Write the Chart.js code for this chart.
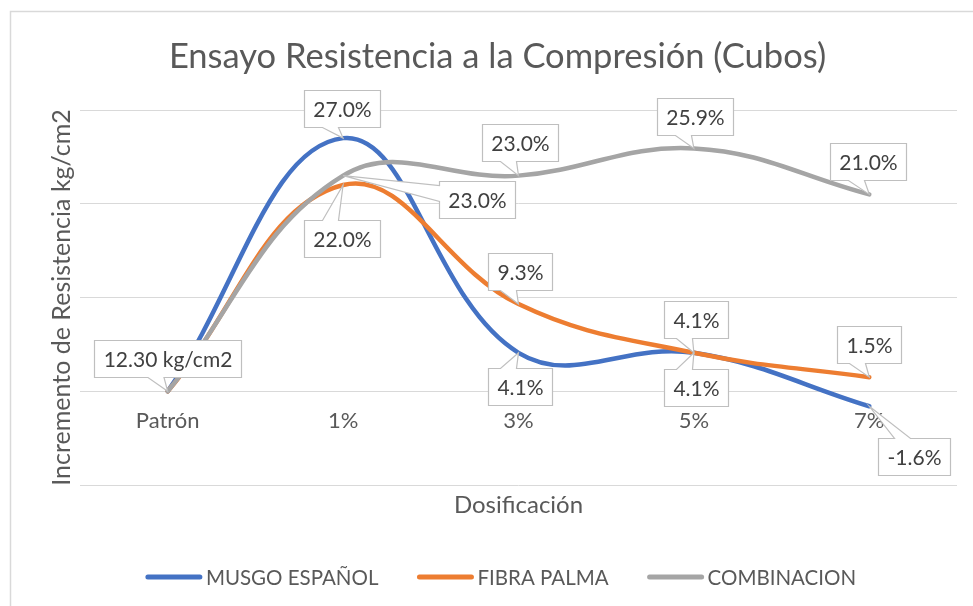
<!DOCTYPE html>
<html>
<head>
<meta charset="utf-8">
<script src="https://cdn.jsdelivr.net/npm/chart.js@4.4.1/dist/chart.umd.min.js"></script>
<style>
  html, body { margin: 0; padding: 0; background: #fff; }
  #wrap { width: 973px; height: 606px; }
</style>
</head>
<body>
<div id="wrap"><canvas id="myChart"></canvas></div>
<script>
// data (increase over Patrón, in %)
const categories = ['Patrón', '1%', '3%', '5%', '7%'];
const musgoEspanol = [0, 27.0, 4.1, 4.1, -1.6];
const fibraPalma = [0, 22.0, 9.3, 4.1, 1.5];
const combinacion = [0, 23.0, 23.0, 25.9, 21.0];
const patronLabel = '12.30 kg/cm2';
const yMin = -10, yMax = 30, yStep = 10;

const FONT = 'Lato, "Noto Sans", sans-serif';
const TEXT = '#595959';

// where each callout box sits relative to its point [dx, dy]; null = no label
const calloutOffsets = [
    [null, [-1, -30], [1, 34], [2, 35], [45, 50]],
    [null, [-1, 53], [1, -33], [2, -33], [0, -33]],
    [[0, -33], [134, 24], [1, -33], [1, -32], [-1, -33]]
];

function calloutPath(ctx, l, t, r, b, px, py) {
    const cx = (l + r) / 2;
    const dl = l - px, dr = px - r, dt = t - py, db = py - b;
    const m = Math.max(dl, dr, dt, db);
    const hw = 8;
    ctx.beginPath();
    ctx.moveTo(l, t);
    if (m === dt) {
        const bx = Math.min(Math.max(cx - 12, l + hw + 2), r - hw - 2);
        ctx.lineTo(bx - hw, t); ctx.lineTo(px, py); ctx.lineTo(bx + hw, t);
    }
    ctx.lineTo(r, t);
    if (m === dr) {
        const by = Math.min(Math.max(t + 12, t + hw + 2), b - hw - 2);
        ctx.lineTo(r, by - hw); ctx.lineTo(px, py); ctx.lineTo(r, by + hw);
    }
    ctx.lineTo(r, b);
    if (m === db) {
        const bx = Math.min(Math.max(cx - 12, l + hw + 2), r - hw - 2);
        ctx.lineTo(bx + hw, b); ctx.lineTo(px, py); ctx.lineTo(bx - hw, b);
    }
    ctx.lineTo(l, b);
    if (m === dl) {
        const by = Math.min(Math.max(t + 12, t + hw + 2), b - hw - 2);
        ctx.lineTo(l, by + hw); ctx.lineTo(px, py); ctx.lineTo(l, by - hw);
    }
    ctx.closePath();
}

const calloutPlugin = {
    id: 'callouts',
    afterDatasetsDraw(chart) {
        const ctx = chart.ctx;
        ctx.save();
        ctx.font = '21px ' + FONT;
        ctx.textAlign = 'center';
        ctx.textBaseline = 'middle';
        chart.data.datasets.forEach((ds, di) => {
            const meta = chart.getDatasetMeta(di);
            meta.data.forEach((pt, i) => {
                const off = calloutOffsets[di][i];
                if (!off) return;
                const text = i === 0 ? patronLabel : ds.data[i].toFixed(1) + '%';
                const w = Math.round(ctx.measureText(text).width + 18);
                const h = 37;
                const cx = pt.x + off[0], cy = pt.y + off[1];
                const l = Math.round(cx - w / 2) + 0.5, t = Math.round(cy - h / 2) + 0.5;
                calloutPath(ctx, l, t, l + w, t + h, pt.x, pt.y);
                ctx.fillStyle = '#ffffff';
                ctx.fill();
                ctx.strokeStyle = '#bfbfbf';
                ctx.lineWidth = 1.2;
                ctx.stroke();
                ctx.fillStyle = '#404040';
                ctx.fillText(text, l + w / 2, t + h / 2 + 1);
            });
        });
        ctx.restore();
    }
};

const framePlugin = {
    id: 'frame',
    beforeDraw(chart) {
        const ctx = chart.ctx;
        ctx.save();
        ctx.fillStyle = '#ffffff';
        ctx.fillRect(0, 0, chart.width, chart.height);
        ctx.strokeStyle = '#d9d9d9';
        ctx.lineWidth = 1.5;
        ctx.strokeRect(10.5, 11.5, 1000, 700);
        ctx.restore();
    },
    afterDraw(chart) {
        // legend: line swatch + label, centred under the chart
        const ctx = chart.ctx;
        ctx.save();
        ctx.font = '20.5px ' + FONT;
        ctx.textBaseline = 'middle';
        const lineLen = 56, gap = 4, itemGap = 39;
        const items = chart.data.datasets.map(ds => ({ ds, tw: ctx.measureText(ds.label).width }));
        const total = items.reduce((s, it) => s + lineLen + gap + it.tw, 0) + itemGap * (items.length - 1);
        let x = 501 - total / 2;
        const y = 577;
        items.forEach(it => {
            ctx.strokeStyle = it.ds.borderColor;
            ctx.lineWidth = 5;
            ctx.lineCap = 'round';
            ctx.beginPath();
            ctx.moveTo(x + 2, y);
            ctx.lineTo(x + lineLen - 2, y);
            ctx.stroke();
            ctx.fillStyle = TEXT;
            ctx.fillText(it.ds.label, x + lineLen + gap, y + 1);
            x += lineLen + gap + it.tw + itemGap;
        });
        ctx.restore();
    }
};

function makeSeries(label, values, color, order) {
    return {
        label: label,
        data: values,
        order: order,
        borderColor: color,
        backgroundColor: color,
        borderWidth: 4.5,
        borderCapStyle: 'round',
        pointRadius: 0,
        pointHoverRadius: 0,
        tension: 0.4,
        fill: false
    };
}

const ctx = document.getElementById('myChart').getContext('2d');
new Chart(ctx, {
    type: 'line',
    data: {
        labels: categories,
        datasets: [
            makeSeries('MUSGO ESPAÑOL', musgoEspanol, '#4472C4', 3),
            makeSeries('FIBRA PALMA', fibraPalma, '#ED7D31', 2),
            makeSeries('COMBINACION', combinacion, '#A5A5A5', 1)
        ]
    },
    options: {
        responsive: true,
        maintainAspectRatio: false,
        animation: false,
        layout: { padding: { left: 38, right: 16, top: 0, bottom: 81 } },
        plugins: {
            legend: { display: false },
            tooltip: { enabled: false },
            title: {
                display: true,
                text: 'Ensayo Resistencia a la Compresión (Cubos)',
                color: TEXT,
                font: { family: FONT, size: 34.5, weight: 'normal' },
                padding: { top: 36, bottom: 32.6 }
            }
        },
        scales: {
            x: {
                offset: true,
                grid: { display: false, drawTicks: false },
                border: { display: false },
                ticks: {
                    color: TEXT,
                    font: { family: FONT, size: 22 },
                    mirror: true,
                    padding: 51
                },
                title: {
                    display: true,
                    text: 'Dosificación',
                    color: TEXT,
                    font: { family: FONT, size: 24 },
                    padding: { top: 0, bottom: 5.6 }
                },
                afterFit(scale) { scale.height = 40; }
            },
            y: {
                min: yMin,
                max: yMax,
                ticks: { display: false, stepSize: yStep },
                grid: { color: '#d9d9d9', lineWidth: 1, drawTicks: false },
                border: { display: false },
                title: {
                    display: true,
                    text: 'Incremento de Resistencia kg/cm2',
                    color: TEXT,
                    font: { family: FONT, size: 25 },
                    padding: { top: 9, bottom: 0 }
                },
                afterFit(scale) { scale.width = 42; }
            }
        }
    },
    plugins: [framePlugin, calloutPlugin]
});
</script>
</body>
</html>
